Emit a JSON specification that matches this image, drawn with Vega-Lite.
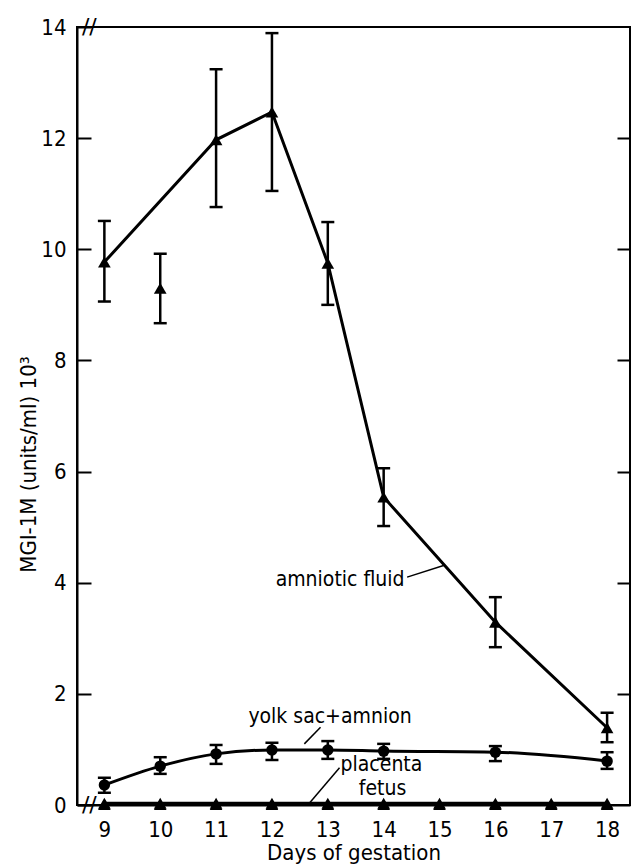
{
  "$schema": "https://vega.github.io/schema/vega-lite/v6.json",
  "autosize": {"type": "none"},
  "width": 553,
  "height": 778,
  "padding": {"left": 77, "top": 27, "right": 2, "bottom": 62},
  "background": "white",
  "config": {
    "view": {"stroke": "black", "strokeWidth": 2},
    "font": "DejaVu Sans Condensed, Roboto Condensed, DejaVu Sans",
    "axis": {"domainColor": "black", "domainWidth": 2, "tickColor": "black", "tickWidth": 2, "labelColor": "black", "titleColor": "black", "grid": false, "labelFont": "DejaVu Sans Condensed, Roboto Condensed, DejaVu Sans", "titleFont": "DejaVu Sans Condensed, Roboto Condensed, DejaVu Sans", "titleFontWeight": "normal", "labelFontWeight": "normal"}
  },
  "datasets": {
    "pts": [
      {"series": "amniotic fluid", "day": 9, "value": 9.77, "lo": 9.06, "hi": 10.51, "online": true},
      {"series": "amniotic fluid", "day": 10, "value": 9.30, "lo": 8.67, "hi": 9.92, "online": false},
      {"series": "amniotic fluid", "day": 11, "value": 11.97, "lo": 10.76, "hi": 13.24, "online": true},
      {"series": "amniotic fluid", "day": 12, "value": 12.47, "lo": 11.05, "hi": 13.89, "online": true},
      {"series": "amniotic fluid", "day": 13, "value": 9.75, "lo": 9.0, "hi": 10.49, "online": true},
      {"series": "amniotic fluid", "day": 14, "value": 5.54, "lo": 5.02, "hi": 6.06, "online": true},
      {"series": "amniotic fluid", "day": 16, "value": 3.29, "lo": 2.84, "hi": 3.74, "online": true},
      {"series": "amniotic fluid", "day": 18, "value": 1.39, "lo": 1.13, "hi": 1.66, "online": true},
      {"series": "yolk sac+amnion", "day": 9, "value": 0.36, "lo": 0.22, "hi": 0.49, "online": true},
      {"series": "yolk sac+amnion", "day": 10, "value": 0.70, "lo": 0.56, "hi": 0.86, "online": true},
      {"series": "yolk sac+amnion", "day": 11, "value": 0.92, "lo": 0.74, "hi": 1.08, "online": true},
      {"series": "yolk sac+amnion", "day": 12, "value": 0.99, "lo": 0.81, "hi": 1.12, "online": true},
      {"series": "yolk sac+amnion", "day": 13, "value": 0.99, "lo": 0.83, "hi": 1.15, "online": true},
      {"series": "yolk sac+amnion", "day": 14, "value": 0.97, "lo": 0.83, "hi": 1.10, "online": true},
      {"series": "yolk sac+amnion", "day": 16, "value": 0.95, "lo": 0.79, "hi": 1.06, "online": true},
      {"series": "yolk sac+amnion", "day": 18, "value": 0.79, "lo": 0.65, "hi": 0.95, "online": true},
      {"series": "placenta", "day": 9, "value": 0.03, "online": true},
      {"series": "placenta", "day": 10, "value": 0.03, "online": true},
      {"series": "placenta", "day": 11, "value": 0.03, "online": true},
      {"series": "placenta", "day": 12, "value": 0.03, "online": true},
      {"series": "placenta", "day": 13, "value": 0.03, "online": true},
      {"series": "placenta", "day": 14, "value": 0.03, "online": true},
      {"series": "placenta", "day": 15, "value": 0.03, "online": true},
      {"series": "placenta", "day": 16, "value": 0.03, "online": true},
      {"series": "placenta", "day": 17, "value": 0.03, "online": true},
      {"series": "placenta", "day": 18, "value": 0.03, "online": true},
      {"series": "fetus", "day": 9, "value": 0.01, "online": true},
      {"series": "fetus", "day": 10, "value": 0.01, "online": true},
      {"series": "fetus", "day": 11, "value": 0.01, "online": true},
      {"series": "fetus", "day": 12, "value": 0.01, "online": true},
      {"series": "fetus", "day": 13, "value": 0.01, "online": true},
      {"series": "fetus", "day": 14, "value": 0.01, "online": true},
      {"series": "fetus", "day": 15, "value": 0.01, "online": true},
      {"series": "fetus", "day": 16, "value": 0.01, "online": true},
      {"series": "fetus", "day": 17, "value": 0.01, "online": true},
      {"series": "fetus", "day": 18, "value": 0.01, "online": true}
    ],
    "labels": [
      {"label": "amniotic fluid", "day": 13.22, "value": 4.05},
      {"label": "yolk sac+amnion", "day": 13.04, "value": 1.58},
      {"label": "placenta", "day": 13.96, "value": 0.72},
      {"label": "fetus", "day": 13.98, "value": 0.28}
    ],
    "leaders": [
      {"series": "amniotic fluid", "day": 14.42, "value": 4.10, "day2": 15.1, "value2": 4.32},
      {"series": "yolk sac+amnion", "day": 12.58, "value": 1.10, "day2": 12.87, "value2": 1.40},
      {"series": "placenta", "day": 12.65, "value": 0.01, "day2": 13.21, "value2": 0.67}
    ],
    "breaks": [
      {"mark": "//", "day": 8.73, "value": 14},
      {"mark": "//", "day": 8.73, "value": 0}
    ]
  },
  "resolve": {"axis": {"y": "independent"}},
  "layer": [
    {
      "data": {"name": "pts"},
      "transform": [{"filter": "datum.lo != null"}],
      "mark": {"type": "errorbar", "color": "black", "ticks": {"size": 13, "thickness": 2.5, "color": "black", "opacity": 1}, "rule": {"strokeWidth": 2.5, "color": "black", "opacity": 1}},
      "encoding": {
        "x": {"field": "day", "type": "quantitative", "scale": {"domain": [8.51, 18.41], "nice": false, "zero": false},
          "axis": {"values": [9, 10, 11, 12, 13, 14, 15, 16, 17, 18], "ticks": false, "labelFontSize": 22, "labelPadding": 14, "title": "Days of gestation", "titleFontSize": 22, "titlePadding": 2}},
        "y": {"field": "lo", "type": "quantitative", "scale": {"domain": [0, 14], "nice": false}, "axis": null},
        "y2": {"field": "hi"}
      }
    },
    {
      "data": {"name": "pts"},
      "transform": [{"filter": "datum.series == 'amniotic fluid' && datum.online"}],
      "mark": {"type": "line", "color": "black", "strokeWidth": 3},
      "encoding": {
        "x": {"field": "day", "type": "quantitative"},
        "y": {"field": "value", "type": "quantitative",
          "axis": {"orient": "left", "values": [0, 2, 4, 6, 8, 10, 12, 14], "tickSize": -14, "labelPadding": 25, "labelFontSize": 22,
            "title": "MGI-1M (units/ml)   10³", "titleFontSize": 22, "titleX": -49, "titleY": 437, "titleBaseline": "middle", "titleAngle": -90}}
      }
    },
    {
      "data": {"name": "pts"},
      "transform": [{"filter": "datum.series == 'yolk sac+amnion'"}],
      "mark": {"type": "line", "color": "black", "strokeWidth": 3, "interpolate": "monotone"},
      "encoding": {
        "x": {"field": "day", "type": "quantitative"},
        "y": {"field": "value", "type": "quantitative",
          "axis": {"orient": "right", "values": [2, 4, 6, 8, 10, 12], "tickSize": -13, "labels": false, "domain": false, "title": null}}
      }
    },
    {
      "data": {"name": "pts"},
      "transform": [{"filter": "datum.series == 'placenta' || datum.series == 'fetus'"}],
      "mark": {"type": "line", "color": "black", "strokeWidth": 3},
      "encoding": {
        "x": {"field": "day", "type": "quantitative"},
        "y": {"field": "value", "type": "quantitative", "axis": null},
        "detail": {"field": "series"}
      }
    },
    {
      "data": {"name": "pts"},
      "transform": [{"filter": "datum.series != 'yolk sac+amnion'"}],
      "mark": {"type": "point", "shape": "triangle-up", "filled": true, "color": "black", "opacity": 1, "size": 160},
      "encoding": {
        "x": {"field": "day", "type": "quantitative"},
        "y": {"field": "value", "type": "quantitative", "axis": null}
      }
    },
    {
      "data": {"name": "pts"},
      "transform": [{"filter": "datum.series == 'yolk sac+amnion'"}],
      "mark": {"type": "point", "shape": "circle", "filled": true, "color": "black", "opacity": 1, "size": 130},
      "encoding": {
        "x": {"field": "day", "type": "quantitative"},
        "y": {"field": "value", "type": "quantitative", "axis": null}
      }
    },
    {
      "data": {"name": "leaders"},
      "mark": {"type": "rule", "color": "black", "strokeWidth": 1.5},
      "encoding": {
        "x": {"field": "day", "type": "quantitative"},
        "y": {"field": "value", "type": "quantitative", "axis": null},
        "x2": {"field": "day2"},
        "y2": {"field": "value2"}
      }
    },
    {
      "data": {"name": "labels"},
      "mark": {"type": "text", "fontSize": 21, "color": "black", "align": "center", "baseline": "middle"},
      "encoding": {
        "x": {"field": "day", "type": "quantitative"},
        "y": {"field": "value", "type": "quantitative", "axis": null},
        "text": {"field": "label"}
      }
    },
    {
      "data": {"name": "breaks"},
      "mark": {"type": "text", "fontSize": 22, "color": "black", "align": "center", "baseline": "middle", "font": "DejaVu Sans"},
      "encoding": {
        "x": {"field": "day", "type": "quantitative"},
        "y": {"field": "value", "type": "quantitative", "axis": null},
        "text": {"field": "mark"}
      }
    }
  ]
}
